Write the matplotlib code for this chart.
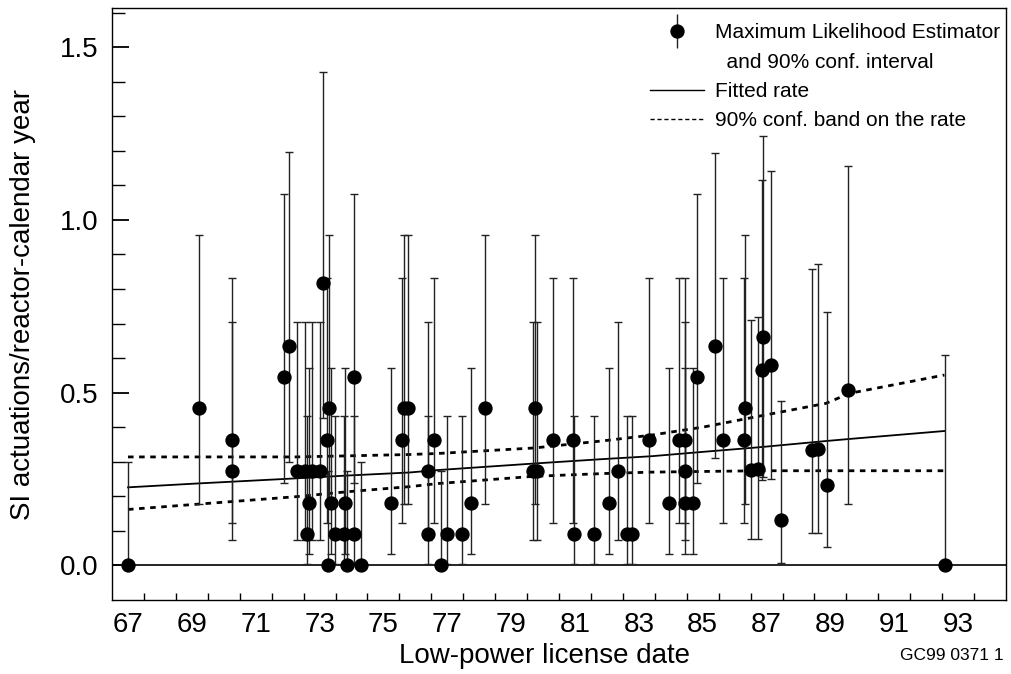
import matplotlib
matplotlib.use("Agg")
import matplotlib.pyplot as plt
import numpy as np
from matplotlib.lines import Line2D
from matplotlib.container import ErrorbarContainer
from matplotlib.legend_handler import HandlerErrorbar
from matplotlib.ticker import FixedLocator, NullFormatter, FormatStrFormatter

plt.rcParams['font.family'] = ['Liberation Sans', 'DejaVu Sans']

# MLE per plant (low-power license date, rate, 90% interval)
years = [67.00, 69.21, 70.26, 70.26, 71.88, 72.04, 72.29, 72.55, 72.60, 72.67,
         72.76, 73.00, 73.10, 73.24, 73.26, 73.29, 73.36, 73.48, 73.76, 73.79,
         73.86, 74.07, 74.08, 74.31, 75.25, 75.57, 75.63, 75.77, 76.41, 76.41,
         76.57, 76.79, 76.98, 77.47, 77.75, 78.17, 79.70, 79.80, 79.76, 80.31,
         80.93, 80.96, 81.61, 82.08, 82.36, 82.64, 82.78, 83.33, 83.93, 84.27,
         84.46, 84.43, 84.46, 84.69, 84.81, 85.40, 85.65, 86.28, 86.31, 86.52,
         86.72, 86.88, 86.86, 87.14, 87.46, 88.42, 88.60, 88.90, 89.54, 92.59]
rate = [0.000, 0.455, 0.364, 0.273, 0.545, 0.636, 0.273, 0.273, 0.091, 0.182,
        0.273, 0.273, 0.818, 0.364, 0.000, 0.455, 0.182, 0.091, 0.091, 0.182,
        0.000, 0.091, 0.545, 0.000, 0.182, 0.364, 0.455, 0.455, 0.273, 0.091,
        0.364, 0.000, 0.091, 0.091, 0.182, 0.455, 0.273, 0.273, 0.455, 0.364,
        0.364, 0.091, 0.091, 0.182, 0.273, 0.091, 0.091, 0.364, 0.182, 0.364,
        0.364, 0.273, 0.182, 0.182, 0.545, 0.636, 0.364, 0.364, 0.455, 0.275,
        0.279, 0.661, 0.565, 0.580, 0.131, 0.333, 0.338, 0.234, 0.507, 0.000]
lower = [0.000, 0.179, 0.124, 0.074, 0.238, 0.299, 0.074, 0.074, 0.005, 0.032,
         0.074, 0.074, 0.427, 0.124, 0.000, 0.179, 0.032, 0.005, 0.005, 0.032,
         0.000, 0.005, 0.238, 0.000, 0.032, 0.124, 0.179, 0.179, 0.074, 0.005,
         0.124, 0.000, 0.005, 0.005, 0.032, 0.179, 0.074, 0.074, 0.179, 0.124,
         0.124, 0.005, 0.005, 0.032, 0.074, 0.005, 0.005, 0.124, 0.032, 0.124,
         0.124, 0.074, 0.032, 0.032, 0.238, 0.310, 0.124, 0.124, 0.179, 0.076,
         0.077, 0.256, 0.246, 0.250, 0.007, 0.093, 0.093, 0.052, 0.178, 0.000]
upper = [0.300, 0.956, 0.832, 0.705, 1.076, 1.195, 0.705, 0.705, 0.431, 0.572,
         0.705, 0.705, 1.428, 0.832, 0.272, 0.956, 0.572, 0.431, 0.431, 0.572,
         0.272, 0.431, 1.076, 0.300, 0.572, 0.832, 0.956, 0.956, 0.705, 0.431,
         0.832, 0.272, 0.431, 0.431, 0.572, 0.956, 0.705, 0.705, 0.956, 0.832,
         0.832, 0.431, 0.431, 0.572, 0.705, 0.431, 0.431, 0.832, 0.572, 0.832,
         0.832, 0.705, 0.572, 0.572, 1.076, 1.194, 0.832, 0.832, 0.956, 0.711,
         0.719, 1.242, 1.116, 1.142, 0.475, 0.857, 0.872, 0.734, 1.156, 0.610]

# fitted rate and 90% band
fit_x = [67.00, 69.14, 72.27, 73.84, 75.82, 76.71, 79.73, 81.92, 83.39, 85.05,
         86.77, 88.86, 89.60, 92.57]
fit_rate = [0.226, 0.237, 0.252, 0.260, 0.269, 0.276, 0.295, 0.308, 0.316, 0.329,
            0.342, 0.360, 0.366, 0.389]
band_hi = [0.314, 0.314, 0.314, 0.317, 0.321, 0.324, 0.340, 0.361, 0.377, 0.401,
           0.432, 0.469, 0.498, 0.551]
band_lo = [0.162, 0.177, 0.199, 0.213, 0.228, 0.237, 0.258, 0.266, 0.270, 0.272,
           0.274, 0.274, 0.274, 0.274]

x_labels = [str(y) for y in range(67, 94, 2)]

fig = plt.figure(figsize=(10.12, 6.74), dpi=100)
ax = fig.add_axes([0.1107, 0.1098, 0.8834, 0.8783])

rate_a = np.array(rate)
yerr = [rate_a - np.array(lower), np.array(upper) - rate_a]

ax.axhline(0, color='black', lw=1.2, zorder=1)
ax.plot(fit_x, fit_rate, color='black', lw=1.3, zorder=2)
ax.plot(fit_x, band_hi, color='black', lw=2.0, dashes=(2, 2), zorder=2)
ax.plot(fit_x, band_lo, color='black', lw=2.0, dashes=(2, 2), zorder=2)
ax.errorbar(years, rate, yerr=yerr, fmt='o', color='black', ms=9.3,
            ecolor='#222222', elinewidth=1.0, capsize=3, capthick=1.0, zorder=3)

ax.set_xlim(66.5, 94.5)
ax.set_ylim(-0.1, 1.613)

# year labels sit between the tick marks
ax.xaxis.set_major_locator(FixedLocator(list(range(67, 94, 2))))
ax.set_xticklabels(x_labels)
ax.xaxis.set_minor_locator(FixedLocator(list(np.arange(67.5, 94.0, 1.0))))
ax.xaxis.set_minor_formatter(NullFormatter())
ax.tick_params(axis='x', which='major', length=0, labelsize=20, pad=9)
ax.tick_params(axis='x', which='minor', direction='in', length=5, width=1)

ax.yaxis.set_major_locator(FixedLocator([0.0, 0.5, 1.0, 1.5]))
ax.yaxis.set_major_formatter(FormatStrFormatter('%.1f'))
ax.yaxis.set_minor_locator(FixedLocator(list(np.arange(0.1, 1.61, 0.1))))
ax.tick_params(axis='y', which='major', direction='in', length=12, width=1.3,
               labelsize=20, pad=10)
ax.tick_params(axis='y', which='minor', direction='in', length=9, width=1)

for s in ax.spines.values():
    s.set_linewidth(1.0)

ax.set_xlabel("Low-power license date", fontsize=20)
ax.xaxis.set_label_coords(0.484, -0.072)
ax.set_ylabel("SI actuations/reactor-calendar year", fontsize=20)
ax.yaxis.set_label_coords(-0.085, 0.5)

# legend
h_mle = ax.errorbar([], [], yerr=[], fmt='o', color='black', ms=9.3,
                    ecolor='#222222', elinewidth=1.0, capsize=3, capthick=1.0)
h_blank = Line2D([], [], linestyle='none')
h_fit = Line2D([], [], color='black', lw=1.0)
h_band = Line2D([], [], color='black', lw=1.0, dashes=(3, 2))
ax.legend([h_mle, h_blank, h_fit, h_band],
          ["Maximum Likelihood Estimator", "  and 90% conf. interval",
           "Fitted rate", "90% conf. band on the rate"],
          handler_map={ErrorbarContainer: HandlerErrorbar(xerr_size=0.5, yerr_size=0.8)},
          loc='upper right', bbox_to_anchor=(1.0, 0.985),
          frameon=False, fontsize=15, handlelength=2.6,
          handletextpad=0.5, labelspacing=0.5, borderpad=0.2, borderaxespad=0.1)

fig.text(0.992, 0.027, "GC99 0371 1", fontsize=12.5, ha='right', va='center')

fig.savefig("out.png", dpi=100)
